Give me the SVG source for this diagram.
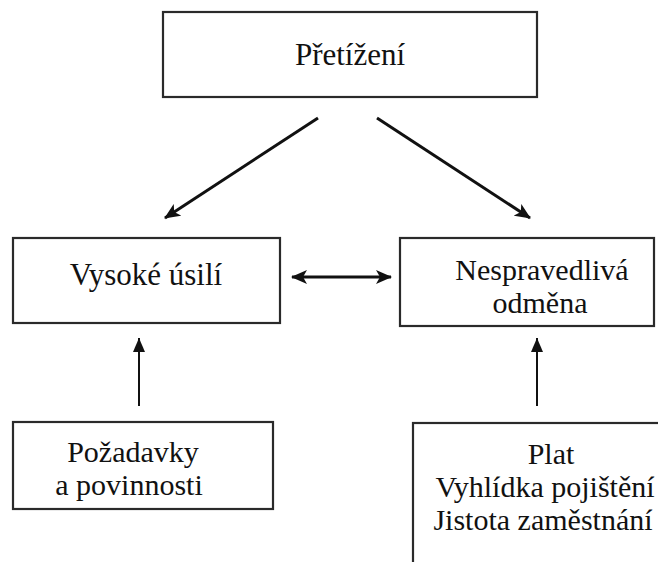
<svg xmlns="http://www.w3.org/2000/svg" width="658" height="562" viewBox="0 0 658 562">
  <style>
    .box { fill: #ffffff; stroke: #2a2a2a; stroke-width: 2.2; }
    .lbl { font-family: 'Liberation Serif', 'Times New Roman', serif; font-size: 31px; fill: #111111; text-anchor: middle; }
    .sm { font-size: 30px; }
    .conn { stroke: #111111; fill: none; }
  </style>
  <defs>
    <marker id="ah" viewBox="0 0 16 14" refX="15" refY="7" markerWidth="16" markerHeight="14" markerUnits="userSpaceOnUse" orient="auto-start-reverse">
      <path d="M0,0 L16,7 L0,14 L4,7 Z" fill="#111111"/>
    </marker>
    <marker id="ahs" viewBox="0 0 14 12" refX="14" refY="6" markerWidth="14" markerHeight="12" markerUnits="userSpaceOnUse" orient="auto">
      <path d="M0,0 L14,6 L0,12 Z" fill="#111111"/>
    </marker>
  </defs>
  <rect width="658" height="562" fill="#ffffff"/>

  <g id="node-pretizeni">
    <rect class="box" x="163" y="12" width="374" height="85"/>
    <text class="lbl" x="350" y="65">Přetížení</text>
  </g>

  <g id="node-vysoke-usili">
    <rect class="box" x="13" y="238" width="267" height="85"/>
    <text class="lbl" x="146" y="285">Vysoké úsilí</text>
  </g>

  <g id="node-nespravedliva-odmena">
    <rect class="box" x="400" y="238" width="254" height="88"/>
    <text class="lbl sm" x="542" y="280">Nespravedlivá</text>
    <text class="lbl sm" x="540" y="313">odměna</text>
  </g>

  <g id="node-pozadavky">
    <rect class="box" x="13" y="422" width="260" height="87"/>
    <text class="lbl sm" x="133" y="462">Požadavky</text>
    <text class="lbl sm" x="129" y="495">a povinnosti</text>
  </g>

  <g id="node-plat">
    <rect class="box" x="413" y="423" width="300" height="200"/>
    <text class="lbl sm" x="551" y="464">Plat</text>
    <text class="lbl sm" x="545" y="497">Vyhlídka pojištění</text>
    <text class="lbl sm" x="543" y="530">Jistota zaměstnání</text>
  </g>

  <g id="connectors">
    <line class="conn" x1="318" y1="118" x2="165" y2="218" stroke-width="3" marker-end="url(#ah)"/>
    <line class="conn" x1="377" y1="118" x2="530" y2="218" stroke-width="3" marker-end="url(#ah)"/>
    <line class="conn" x1="292" y1="277" x2="391" y2="277" stroke-width="3" marker-start="url(#ah)" marker-end="url(#ah)"/>
    <line class="conn" x1="139" y1="406" x2="139" y2="338" stroke-width="2" marker-end="url(#ahs)"/>
    <line class="conn" x1="537" y1="406" x2="537" y2="338" stroke-width="2" marker-end="url(#ahs)"/>
  </g>
</svg>
